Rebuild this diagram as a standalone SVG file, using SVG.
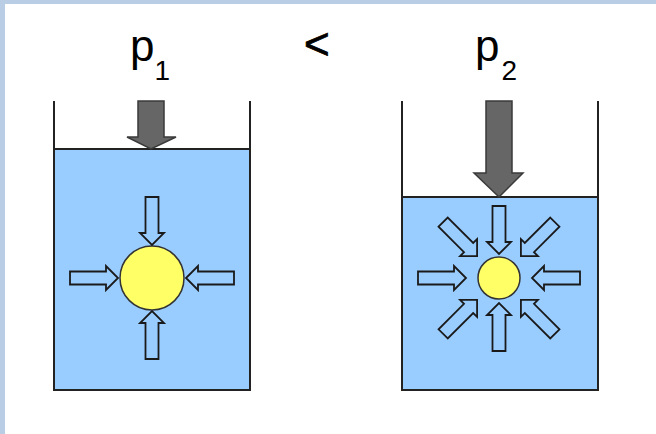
<svg xmlns="http://www.w3.org/2000/svg" xmlns:xlink="http://www.w3.org/1999/xlink" width="656" height="434" viewBox="0 0 656 434">
  <style>
    .frame { fill: #b9cde5; }
    .water { fill: #99ccff; stroke: #222; stroke-width: 2; }
    .wall { fill: none; stroke: #222; stroke-width: 2; }
    .piston { fill: #666; stroke: #3a3a3a; stroke-width: 1.5; }
    .bubble { fill: #ffff66; stroke: #333; stroke-width: 1.5; }
    .push { fill: none; stroke: #1a1a1a; stroke-width: 1.8; stroke-linejoin: miter; }
    .label { font-family: "Liberation Sans", Arial, sans-serif; fill: #000; }
  </style>
  <defs>
    <!-- small outlined arrow pointing down, tip at origin -->
    <path id="arr" d="M -6.5,-48 H 6.5 V -12 H 12 L 0,0 L -12,-12 H -6.5 Z"/>
  </defs>

  <rect width="656" height="434" fill="#fff"/>
  <rect class="frame" x="0" y="0" width="656" height="4"/>
  <rect class="frame" x="0" y="0" width="5" height="434"/>

  <!-- labels -->
  <g id="labels">
    <text class="label" x="130" y="61" font-size="44">p<tspan font-size="28" dy="19">1</tspan></text>
    <text class="label" x="304" y="59" font-size="44" stroke="#000" stroke-width="0.8">&lt;</text>
    <text class="label" x="475" y="61" font-size="44">p<tspan font-size="28" dx="2" dy="19">2</tspan></text>
  </g>

  <!-- low pressure vessel -->
  <g id="vessel1">
    <rect class="water" x="54" y="149" width="196" height="241"/>
    <path class="wall" d="M 54,101 V 390 H 250 V 101"/>
    <path class="piston" d="M 138,101 H 164 V 137 H 176 L 151,149 L 127,137 H 138 Z"/>
    <circle class="bubble" cx="152" cy="278" r="32"/>
    <g class="push" transform="translate(152,278)">
      <use xlink:href="#arr" transform="rotate(0) translate(0,-33)"/>
      <use xlink:href="#arr" transform="rotate(90) translate(0,-34)"/>
      <use xlink:href="#arr" transform="rotate(180) translate(0,-33)"/>
      <use xlink:href="#arr" transform="rotate(270) translate(0,-34)"/>
    </g>
  </g>

  <!-- high pressure vessel -->
  <g id="vessel2">
    <rect class="water" x="402" y="197" width="196" height="193"/>
    <path class="wall" d="M 402,101 V 390 H 598 V 101"/>
    <path class="piston" d="M 486,101 H 512 V 173 H 523 L 499,197 L 474,173 H 486 Z"/>
    <circle class="bubble" cx="499" cy="278" r="21"/>
    <g class="push" transform="translate(499,278)">
      <use xlink:href="#arr" transform="rotate(0) translate(0,-24)"/>
      <use xlink:href="#arr" transform="rotate(45) translate(0,-31)"/>
      <use xlink:href="#arr" transform="rotate(90) translate(0,-33)"/>
      <use xlink:href="#arr" transform="rotate(135) translate(0,-31)"/>
      <use xlink:href="#arr" transform="rotate(180) translate(0,-25)"/>
      <use xlink:href="#arr" transform="rotate(225) translate(0,-31)"/>
      <use xlink:href="#arr" transform="rotate(270) translate(0,-33)"/>
      <use xlink:href="#arr" transform="rotate(315) translate(0,-31)"/>
    </g>
  </g>
</svg>
